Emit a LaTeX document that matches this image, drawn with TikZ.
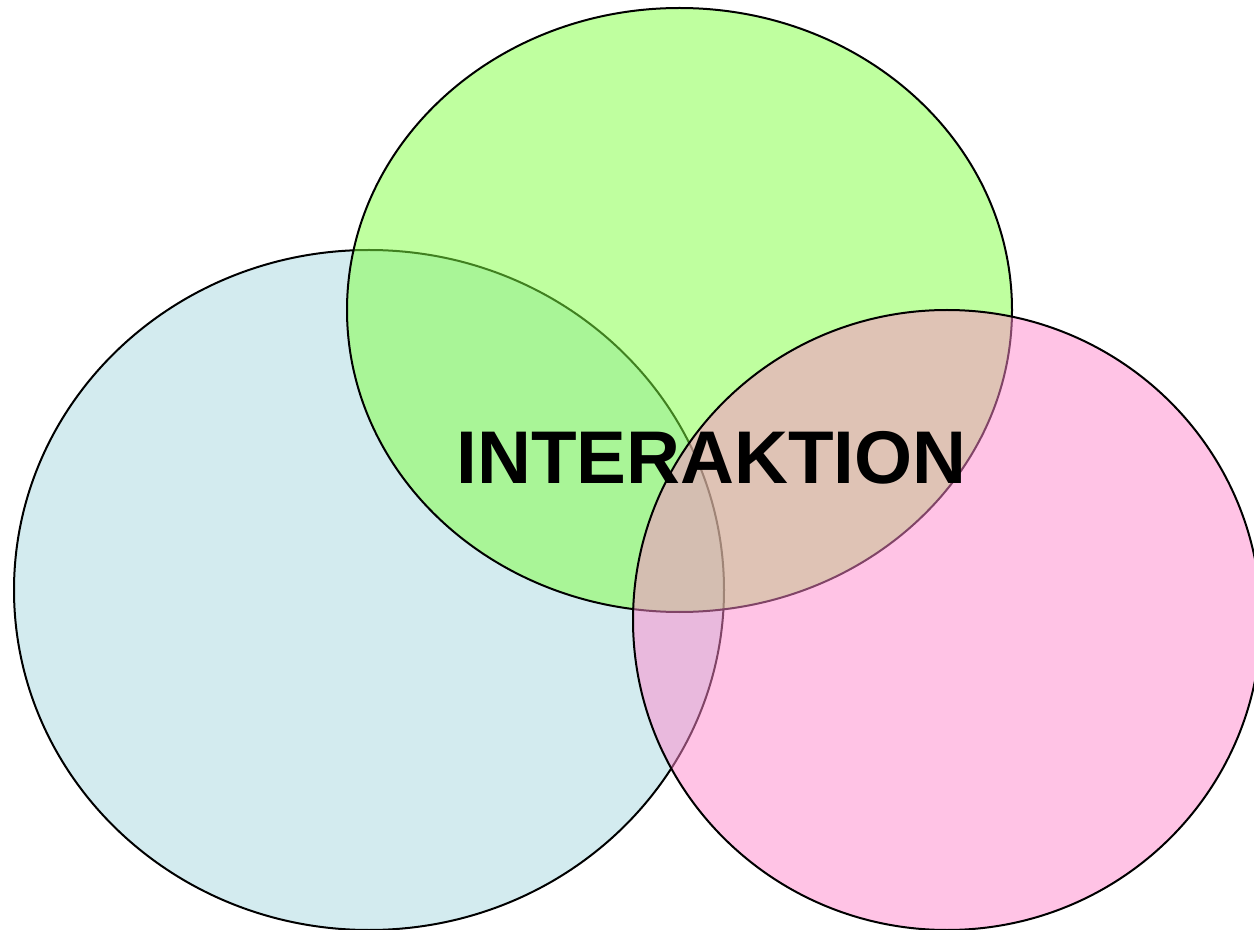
\documentclass[tikz,border=0pt]{standalone}
\usepackage{fontspec}
\setmainfont{Liberation Sans}
\definecolor{cblue}{RGB}{168,216,224}
\definecolor{cgreen}{RGB}{128,255,64}
\definecolor{cpink}{RGB}{255,136,204}
\tikzset{
  blob/.style={draw=black, line width=1.5pt, fill opacity=0.5},
  title/.style={inner sep=0pt, font=\fontsize{56}{60}\selectfont\bfseries}
}
\begin{document}
\begin{tikzpicture}[x=0.75pt,y=-0.75pt]
\useasboundingbox (0,0) rectangle (1254,930);
\begin{scope}
\clip (0,0) rectangle (1254,930);
\draw[blob, fill=cblue] (369,590) ellipse [x radius=355, y radius=340];
\draw[blob, fill=cgreen] (679.5,310) ellipse [x radius=332.5, y radius=302];
\draw[blob, fill=cpink] (947,620) ellipse [x radius=314, y radius=310];
\end{scope}
\node[title] (t) at (711.5,458) {INTERAKTION};
\end{tikzpicture}
\end{document}
